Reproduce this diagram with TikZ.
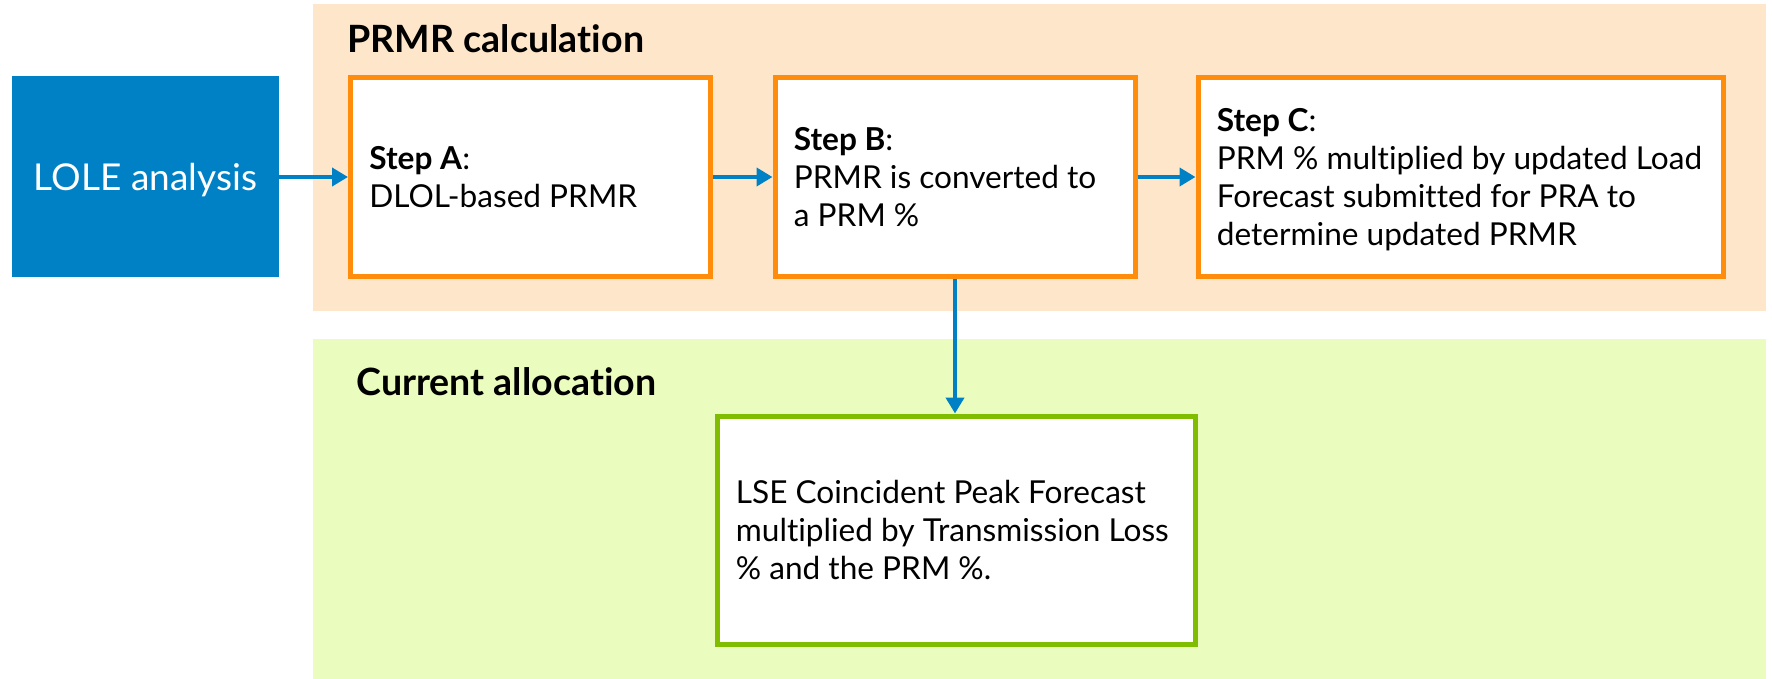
\documentclass[tikz,border=0pt]{standalone}
\usepackage{fontspec}
\setmainfont{Lato}[Ligatures=NoCommon]
\usetikzlibrary{arrows.meta}
\definecolor{peachbg}{HTML}{FEE6CA}
\definecolor{limebg}{HTML}{EAFCBE}
\definecolor{stepor}{HTML}{FF8C0A}
\definecolor{allocgr}{HTML}{80BC00}
\definecolor{misoblue}{HTML}{0081C6}
\tikzset{
  stepbox/.style={draw=stepor, fill=white, line width=2.5pt, inner sep=0pt,
    minimum width=180pt, minimum height=99.5pt},
  allocbox/.style={draw=allocgr, fill=white, line width=2.5pt, inner sep=0pt,
    minimum width=239pt, minimum height=114pt},
  boxtext/.style={anchor=west, align=left, inner sep=0pt,
    font=\fontsize{15.8}{19}\selectfont},
  paneltitle/.style={anchor=base west, inner sep=0pt,
    font=\fontsize{18.8}{22}\selectfont\bfseries},
  flow/.style={draw=misoblue, line width=2.2pt,
    -{Triangle[length=8pt,width=9pt]}}
}
\begin{document}
\begin{tikzpicture}[x=0.5pt,y=-0.5pt]
\useasboundingbox (0,0) rectangle (1772,679);

% background panels
\fill[peachbg] (313,4) rectangle (1766,311);
\fill[limebg] (313,339) rectangle (1766,679);

% panel titles
\node[paneltitle] (tcalc) at (347,53) {PRMR calculation};
\node[paneltitle] (talloc) at (356,395) {Current allocation};

% input box
\node[fill=misoblue, text=white, inner sep=0pt, minimum width=133.5pt,
  minimum height=100.5pt, text depth=0pt, font=\fontsize{18.5}{22}\selectfont]
  (lole) at (145.5,177) {LOLE analysis};

% calculation steps
\node[stepbox] (A) at (530.5,177) {};
\node[stepbox] (B) at (955,177) {};
\node[stepbox, minimum width=262.5pt] (C) at (1460.5,177) {};

\node[boxtext] (tA) at ([xshift=10.5pt]A.west)
  {\textbf{Step A}:\\DLOL-based PRMR};
\node[boxtext] (tB) at ([xshift=10.5pt]B.west)
  {\textbf{Step B}:\\PRMR is converted to\\a PRM \%};
\node[boxtext] (tC) at ([xshift=10.5pt,yshift=-1.4pt]C.west)
  {\textbf{Step C}:\\PRM \% multiplied by updated Load\\Forecast submitted for PRA to\\determine updated PRMR};

% allocation box
\node[allocbox] (G) at (956,530) {};
\node[boxtext] (tG) at ([xshift=10.5pt]G.west)
  {LSE Coincident Peak Forecast\\multiplied by Transmission Loss\\\% and the PRM \%.};

% connectors
\draw[flow] (lole.east) -- (A.west);
\draw[flow] (A.east) -- (B.west);
\draw[flow] (B.east) -- (C.west);
\draw[flow] (B.south) -- (B.south |- G.north);
\end{tikzpicture}
\end{document}
